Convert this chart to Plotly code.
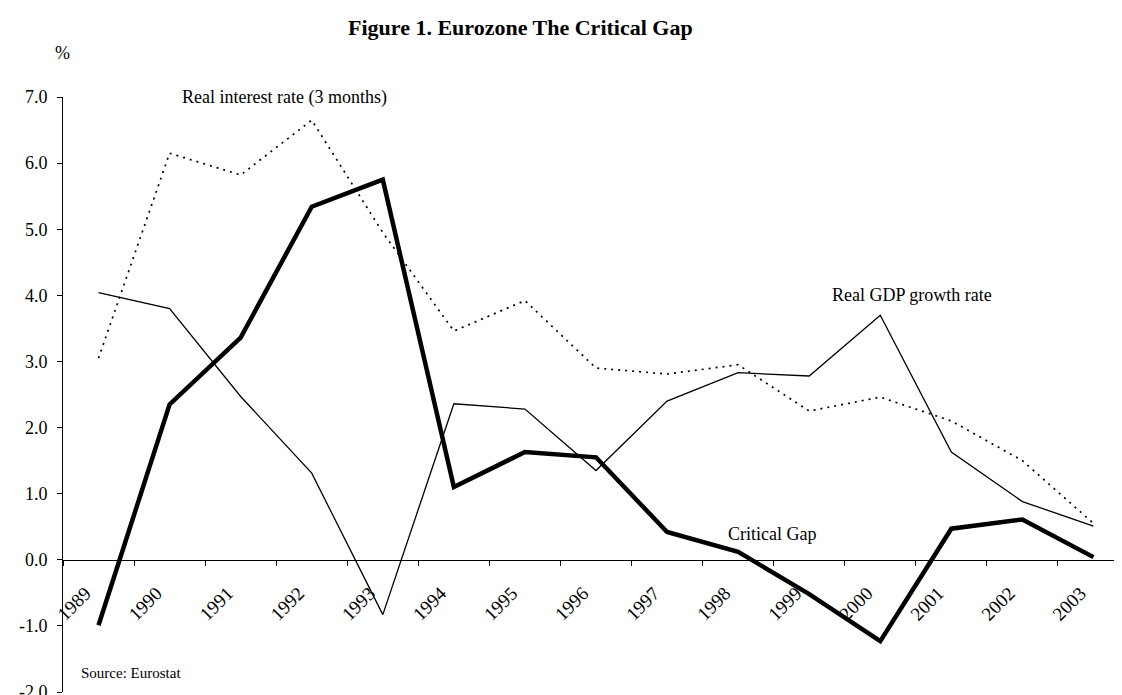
import plotly.graph_objects as go

years = ["1989", "1990", "1991", "1992", "1993", "1994", "1995", "1996",
         "1997", "1998", "1999", "2000", "2001", "2002", "2003"]
interest_rate = [3.05, 6.15, 5.82, 6.65, 4.95, 3.46, 3.92, 2.90, 2.81, 2.95,
                 2.25, 2.46, 2.10, 1.50, 0.55]
gdp_growth = [4.04, 3.80, 2.47, 1.31, -0.83, 2.36, 2.28, 1.35, 2.40, 2.83,
              2.78, 3.70, 1.63, 0.88, 0.51]
critical_gap = [-0.99, 2.35, 3.36, 5.34, 5.75, 1.10, 1.63, 1.55, 0.42, 0.12,
                -0.52, -1.23, 0.47, 0.61, 0.04]
y_ticks = [-2, -1, 0, 1, 2, 3, 4, 5, 6, 7]
y_tick_labels = ["-2.0", "-1.0", "0.0", "1.0", "2.0", "3.0", "4.0", "5.0", "6.0", "7.0"]

FONT = "Liberation Serif, Times New Roman, serif"
W, H = 1122, 695
L, R, T, B = 54.5, 1.4, 89, 11
pw, ph = W - L - R, H - T - B


def px(x):
    return (x - L) / pw


def py(y):
    return (H - B - y) / ph


fig = go.Figure()
fig.add_trace(go.Scatter(x=years, y=interest_rate, mode="lines",
                         line=dict(color="black", width=1.7, dash="2px,5px"),
                         name="Real interest rate (3 months)"))
fig.add_trace(go.Scatter(x=years, y=gdp_growth, mode="lines",
                         line=dict(color="black", width=1.3),
                         name="Real GDP growth rate"))
fig.add_trace(go.Scatter(x=years, y=critical_gap, mode="lines",
                         line=dict(color="black", width=4.5),
                         name="Critical Gap"))

ymin, ymax = -2, 7
fig.update_layout(
    width=W, height=H, autosize=False,
    template="none",
    paper_bgcolor="white", plot_bgcolor="white",
    showlegend=False,
    margin=dict(l=L, r=R, t=T, b=B, pad=0),
    font=dict(family=FONT, size=18, color="black"),
    title=dict(text="<b>Figure 1. Eurozone The Critical Gap</b>",
               x=340 / W, xanchor="left", y=1 - 19 / H, yanchor="middle",
               font=dict(family=FONT, size=22, color="black")),
    xaxis=dict(type="category", range=[-0.5, len(years) - 0.5],
               showgrid=False, zeroline=False,
               showline=True, linecolor="black", linewidth=1,
               ticks="outside", ticklen=5, tickcolor="black", tickwidth=1,
               tickson="boundaries", tickangle=-45,
               ticklabelstandoff=14, ticklabelshift=-13,
               anchor="free", position=(0 - ymin) / (ymax - ymin),
               automargin=False, layer="below traces",
               tickfont=dict(family=FONT, size=19, color="black")),
    yaxis=dict(range=[ymin, ymax], tickvals=y_ticks, ticktext=y_tick_labels,
               showgrid=False, zeroline=False,
               showline=True, linecolor="black", linewidth=1,
               ticks="outside", ticklen=5, tickcolor="black", tickwidth=1,
               ticklabelstandoff=6, ticklabeloverflow="allow",
               automargin=False,
               tickfont=dict(family=FONT, size=18, color="black")),
)

annotations = [
    dict(text="%", x=px(54), y=py(45), xanchor="center"),
    dict(text="Real interest rate (3 months)", x=px(172), y=py(89), xanchor="left"),
    dict(text="Real GDP growth rate", x=px(822), y=py(287), xanchor="left"),
    dict(text="Critical Gap", x=px(718), y=py(526), xanchor="left"),
    dict(text="Source: Eurostat", x=px(71), y=py(665), xanchor="left", size=15),
]
for a in annotations:
    fig.add_annotation(text=a["text"], x=a["x"], y=a["y"], xref="paper", yref="paper",
                       xanchor=a["xanchor"], yanchor="middle", showarrow=False,
                       font=dict(family=FONT, size=a.get("size", 18), color="black"))

fig.write_html("out.html")
